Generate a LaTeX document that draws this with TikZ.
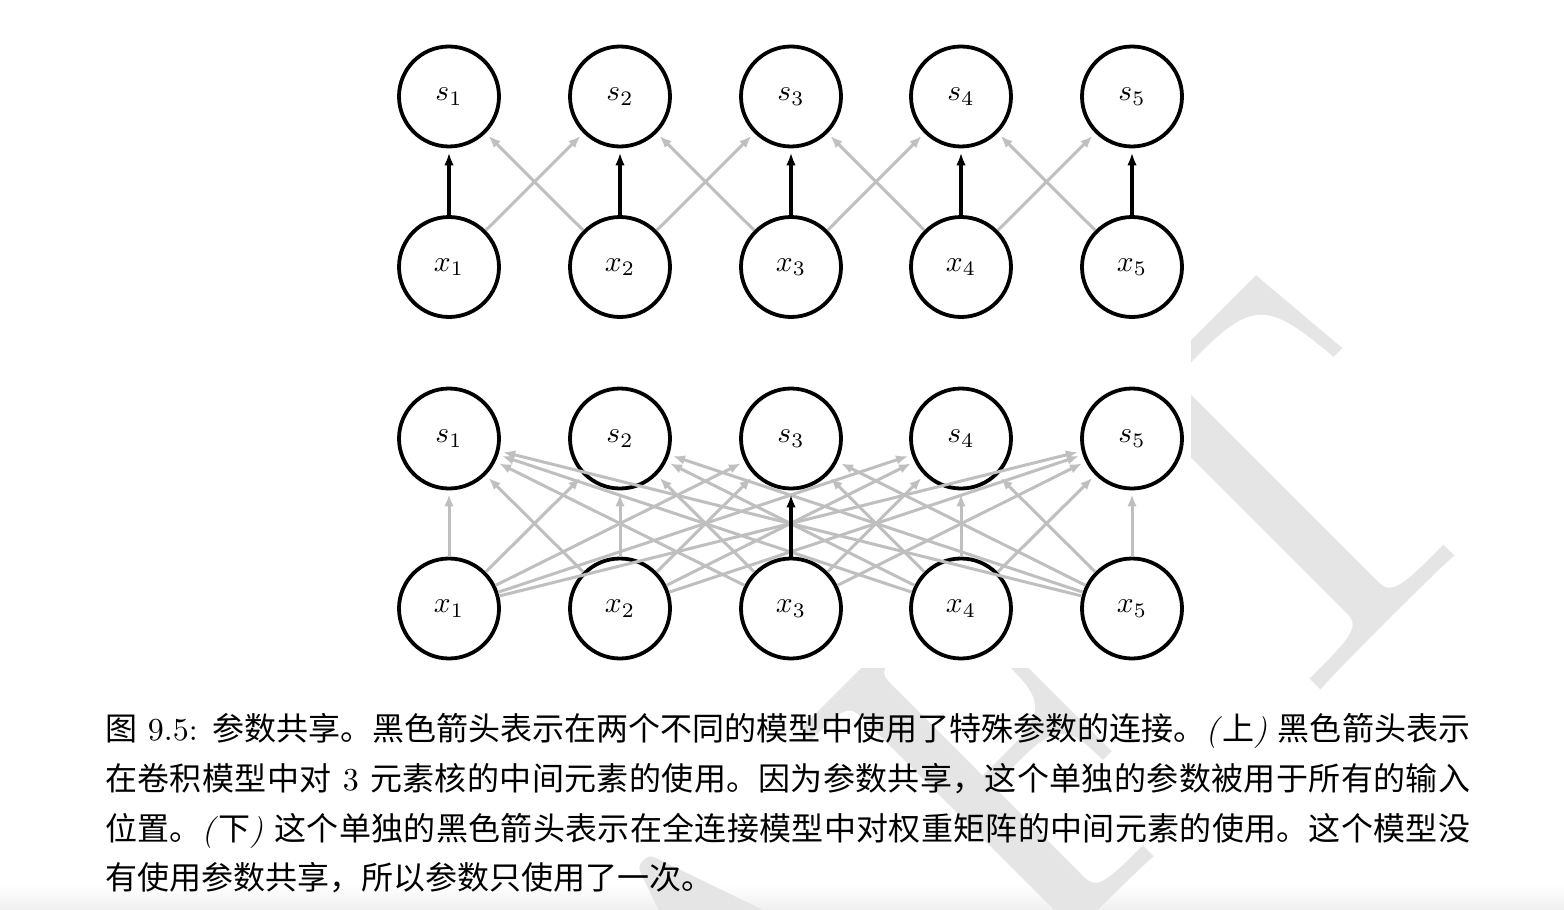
\documentclass[tikz,border=0pt]{standalone}
\usepackage{graphicx}
\usepackage{fontspec}
\setmainfont{lmroman10-regular.otf}[ItalicFont=lmroman10-italic.otf,BoldFont=lmroman10-bold.otf]
\newfontfamily\cjk{Noto Sans CJK SC}
\usetikzlibrary{arrows.meta}
\newcommand\zh[1]{{\cjk #1}}
\newcommand\lbl[1]{\scalebox{2.95}{$#1$}}
\newcommand\capline[1]{\parbox[t]{1365pt}{\tolerance=10000\parfillskip=0pt\relax #1}}
\XeTeXlinebreaklocale "zh"
\XeTeXlinebreakskip=0pt plus 3pt
\begin{document}
\begin{tikzpicture}[x=1pt,y=-1pt,
  nd/.style={circle,draw=black,line width=3.8pt,minimum size=100pt,inner sep=0pt,fill=white},
  blk/.style={line width=3.4pt,draw=black,-{Latex[length=13pt,width=9.5pt]},shorten >=4pt},
  gry/.style={line width=3pt,draw=gray!50,-{Latex[length=12pt,width=9.5pt]},shorten >=4pt},
  captxt/.style={anchor=base west,inner sep=0pt,font=\fontsize{32}{40}\selectfont},
  wmark/.style={rotate=45,anchor=base east,inner sep=0pt,text=black!10,font=\fontsize{500}{500}\selectfont}
]
\useasboundingbox (0,0) rectangle (1564,910);
\clip (0,0) rectangle (1564,910);
\fill[white] (0,0) rectangle (1564,910);
\shade[top color=white,bottom color=black!6] (0,884) rectangle (1564,910);
% watermark
\node[wmark] (wm) at (1516,495) {DRAFT};
\fill[white] (0,0) rectangle (1191,668);
% nodes
\foreach \i/\x in {1/449,2/620,3/791,4/961,5/1132} {
  \node[nd] (ts\i) at (\x,96.5) {\lbl{s_{\i}}};
  \node[nd] (tx\i) at (\x,267) {\lbl{x_{\i}}};
  \node[nd] (bs\i) at (\x,438.5) {\lbl{s_{\i}}};
  \node[nd] (bx\i) at (\x,608.5) {\lbl{x_{\i}}};
}
% top: convolution, shared parameters
\foreach \i/\j in {1/2,2/1,2/3,3/2,3/4,4/3,4/5,5/4}
  \draw[gry] (tx\i) -- (ts\j);
\foreach \i in {1,...,5}
  \draw[blk] (tx\i) -- (ts\i);
% bottom: fully connected
\foreach \i in {1,...,5}{
  \foreach \j in {1,...,5}{
    \ifnum\i\j=33\relax\else\draw[gry] (bx\i) -- (bs\j);\fi
  }
}
\draw[blk] (bx3) -- (bs3);
% caption
\node[captxt] (c1) at (105,740) {\capline{\zh{图} 9.5: \zh{参数共享。黑色箭头表示在两个不同的模型中使用了特殊参数的连接。}\textit{(}\zh{上}\textit{)} \zh{黑色箭头表示}}};
\node[captxt] (c2) at (105,790) {\capline{\zh{在卷积模型中对} 3 \zh{元素核的中间元素的使用。因为参数共享，这个单独的参数被用于所有的输入}}};
\node[captxt] (c3) at (105,840) {\capline{\zh{位置。}\textit{(}\zh{下}\textit{)} \zh{这个单独的黑色箭头表示在全连接模型中对权重矩阵的中间元素的使用。这个模型没}}};
\node[captxt] (c4) at (105,889) {\zh{有使用参数共享，所以参数只使用了一次。}};
\end{tikzpicture}
\end{document}
